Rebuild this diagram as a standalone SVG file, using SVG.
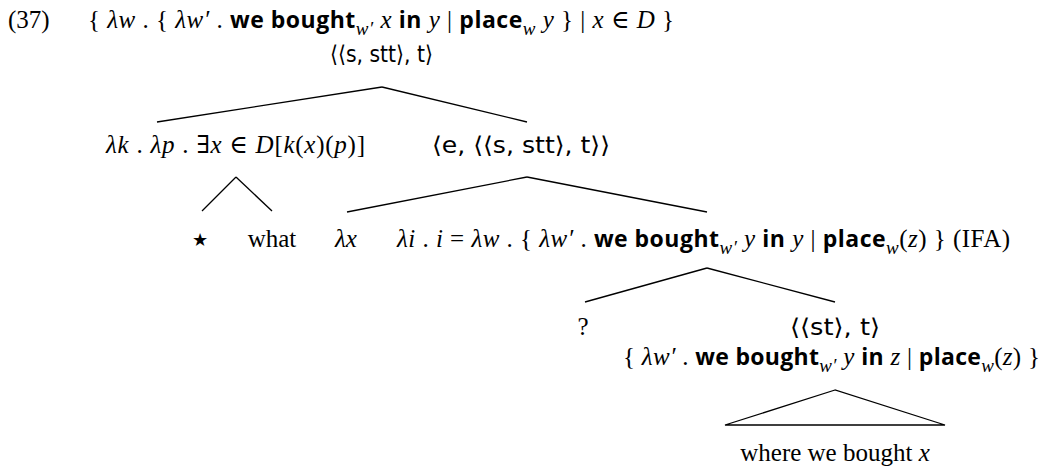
<svg xmlns="http://www.w3.org/2000/svg" width="1046" height="475" viewBox="0 0 1046 475">
<style>
text{font-family:"Liberation Serif","DejaVu Serif",serif;font-size:25px;fill:#000}
.i{font-style:italic}
.b{font-family:"Open Sans","Liberation Sans",sans-serif;font-weight:bold;font-size:23px}
.s{font-size:19px;font-style:italic}
.t{font-family:"DejaVu Sans","Liberation Sans",sans-serif;font-size:23px}
.c{text-anchor:middle}
line{stroke:#000;stroke-width:1.3}
</style>
<rect width="1046" height="475" fill="#fff"/>
<g id="root">
<text x="8" y="28">(37)</text>
<text x="88" y="28" textLength="586" lengthAdjust="spacing">{ <tspan class="i">λw</tspan> . { <tspan class="i">λw′</tspan> . <tspan class="b">we bought</tspan><tspan class="s" dy="7">w′</tspan><tspan class="i" dy="-7"> x</tspan> <tspan class="b">in</tspan> <tspan class="i">y</tspan> | <tspan class="b">place</tspan><tspan class="s" dy="7">w</tspan><tspan class="i" dy="-7"> y</tspan> } | <tspan class="i">x</tspan> ∈ <tspan class="i">D</tspan> }</text>
<text class="t" x="330" y="62" textLength="103" lengthAdjust="spacingAndGlyphs">⟨⟨s, stt⟩, t⟩</text>
</g>
<g id="quant">
<text x="106" y="153" textLength="259" lengthAdjust="spacing"><tspan class="i">λk</tspan> . <tspan class="i">λp</tspan> . ∃<tspan class="i">x</tspan> ∈ <tspan class="i">D</tspan>[<tspan class="i">k</tspan>(<tspan class="i">x</tspan>)(<tspan class="i">p</tspan>)]</text>
</g>
<g id="star"><text class="c" x="200" y="246" style="font-family:'DejaVu Sans',sans-serif;font-size:18px">★</text></g>
<g id="what"><text class="c" x="272" y="247">what</text></g>
<g id="typeE">
<text class="t" x="432" y="153" textLength="178" lengthAdjust="spacingAndGlyphs">⟨e, ⟨⟨s, stt⟩, t⟩⟩</text>
</g>
<g id="lamx"><text class="i c" x="346" y="247">λx</text></g>
<g id="lami">
<text x="397" y="247" textLength="613" lengthAdjust="spacing"><tspan class="i">λi</tspan> . <tspan class="i">i</tspan> = <tspan class="i">λw</tspan> . { <tspan class="i">λw′</tspan> . <tspan class="b">we bought</tspan><tspan class="s" dy="7">w′</tspan><tspan class="i" dy="-7"> y</tspan> <tspan class="b">in</tspan> <tspan class="i">y</tspan> | <tspan class="b">place</tspan><tspan class="s" dy="7">w</tspan><tspan dy="-7">(</tspan><tspan class="i">z</tspan>) } (IFA)</text>
</g>
<g id="q"><text class="c" x="583" y="335">?</text></g>
<g id="stt">
<text class="t" x="790" y="335" textLength="90" lengthAdjust="spacingAndGlyphs">⟨⟨st⟩, t⟩</text>
<text x="623" y="365" textLength="417" lengthAdjust="spacing">{ <tspan class="i">λw′</tspan> . <tspan class="b">we bought</tspan><tspan class="s" dy="7">w′</tspan><tspan class="i" dy="-7"> y</tspan> <tspan class="b">in</tspan> <tspan class="i">z</tspan> | <tspan class="b">place</tspan><tspan class="s" dy="7">w</tspan><tspan dy="-7">(</tspan><tspan class="i">z</tspan>) }</text>
</g>
<g id="leaf">
<text class="c" x="835" y="461">where we bought <tspan class="i">x</tspan></text>
</g>
<g id="connectors">
<line x1="382" y1="87" x2="157" y2="122"/>
<line x1="382" y1="87" x2="527" y2="122"/>
<line x1="236" y1="177" x2="202" y2="211"/>
<line x1="236" y1="177" x2="272" y2="211"/>
<line x1="527" y1="177" x2="347" y2="212"/>
<line x1="527" y1="177" x2="707" y2="212"/>
<line x1="707" y1="268" x2="585" y2="302"/>
<line x1="707" y1="268" x2="835" y2="302"/>
<polygon points="835,390 725,425 945,425" fill="none" stroke="#000" stroke-width="1.3"/>
</g>
</svg>
